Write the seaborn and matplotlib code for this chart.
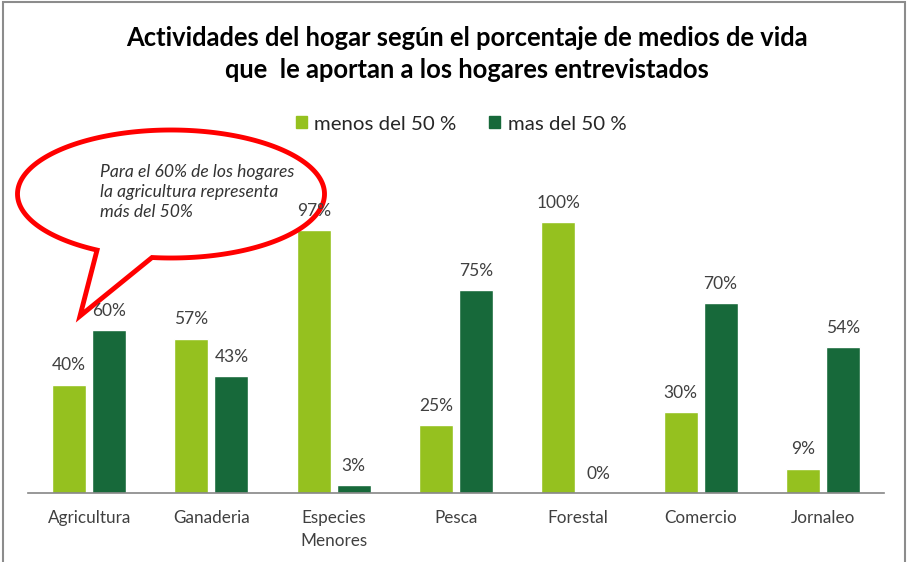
import numpy as np
import pandas as pd
import matplotlib
matplotlib.use("Agg")
import matplotlib.pyplot as plt
import seaborn as sns
from matplotlib.patches import Polygon, Rectangle

# datos
actividades = ["Agricultura", "Ganaderia", "Especies\nMenores", "Pesca",
               "Forestal", "Comercio", "Jornaleo"]
menos_50 = [40, 57, 97, 25, 100, 30, 9]
mas_50 = [60, 43, 3, 75, 0, 70, 54]
series = ["menos del 50 %", "mas del 50 %"]
colores = ["#95C11F", "#17693A"]

df = pd.DataFrame({
    "actividad": actividades * 2,
    "serie": [series[0]] * len(actividades) + [series[1]] * len(actividades),
    "valor": menos_50 + mas_50,
})

sns.set_theme(style="white")
plt.rcParams["font.family"] = ["Lato", "DejaVu Sans"]

W, H = 907, 562
fig = plt.figure(figsize=(W / 100, H / 100), dpi=100)

# ejes en coordenadas de pixel
x0, x1, yb, yt = 28, 884, 493, 160
ax = fig.add_axes([x0 / W, 1 - yb / H, (x1 - x0) / W, (yb - yt) / H])

sns.barplot(data=df, x="actividad", y="valor", hue="serie",
            palette=colores, saturation=1, width=0.654, gap=0.15,
            ax=ax, legend=False)

ax.set_ylim(0, (yb - yt) / 271 * 100)
ax.set_xlim(-0.5, len(actividades) - 0.5)
ax.set_xlabel("")
ax.set_ylabel("")
ax.set_yticks([])
for s in ["top", "left", "right"]:
    ax.spines[s].set_visible(False)
ax.spines["bottom"].set_color("#868686")
ax.spines["bottom"].set_linewidth(1.2)
ax.tick_params(axis="x", length=0, pad=12.5, labelsize=12.3, labelcolor="#404040")
for lbl in ax.get_xticklabels():
    lbl.set_linespacing(1.5)

for cont in ax.containers:
    ax.bar_label(cont, fmt="{:.0f}%", padding=8, fontsize=12.5, color="#404040",
                 zorder=4)

# titulo
fig.text(467 / W, 1 - 38 / H, "Actividades del hogar según el porcentaje de medios de vida",
         ha="center", va="center", fontsize=18.4, fontweight="bold", color="black")
fig.text(467 / W, 1 - 70 / H, "que  le aportan a los hogares entrevistados",
         ha="center", va="center", fontsize=18.4, fontweight="bold", color="black")

# leyenda
handles = [Rectangle((0, 0), 1, 1, color=c) for c in colores]
fig.legend(handles, series, loc="center", bbox_to_anchor=(461 / W, 1 - 124 / H),
           ncol=2, frameon=False, fontsize=14.7, handlelength=0.55, handleheight=0.55,
           handletextpad=0.35, columnspacing=1.6, labelcolor="#262626")

# globo de dialogo
cx, cy, a, b = 171, 194, 153.5, 64
t = np.radians(np.linspace(118.8, 457.1, 300))
px = cx + a * np.cos(t)
py = cy + b * np.sin(t)
px = np.append(px, 80)
py = np.append(py, 316)
pts = np.column_stack([px / W, 1 - py / H])
ax.add_patch(Polygon(pts, closed=True, transform=fig.transFigure, clip_on=False,
                     facecolor="white", edgecolor="#FF0000", linewidth=3.5,
                     zorder=2.5))
ax.text(100 / W, 1 - 164 / H,
        "Para el 60% de los hogares\nla agricultura representa\nmás del 50%",
        transform=fig.transFigure, ha="left", va="top", fontsize=12.6,
        style="italic", color="#333333", linespacing=1.3, zorder=3)

# marco
fig.patches.append(Rectangle((3 / W, -0.01), (905 - 3) / W, 1.01 - 2 / H,
                             transform=fig.transFigure, fill=False,
                             edgecolor="#8C8C8C", linewidth=1.5))

fig.savefig("out.png", dpi=100, facecolor="white")
